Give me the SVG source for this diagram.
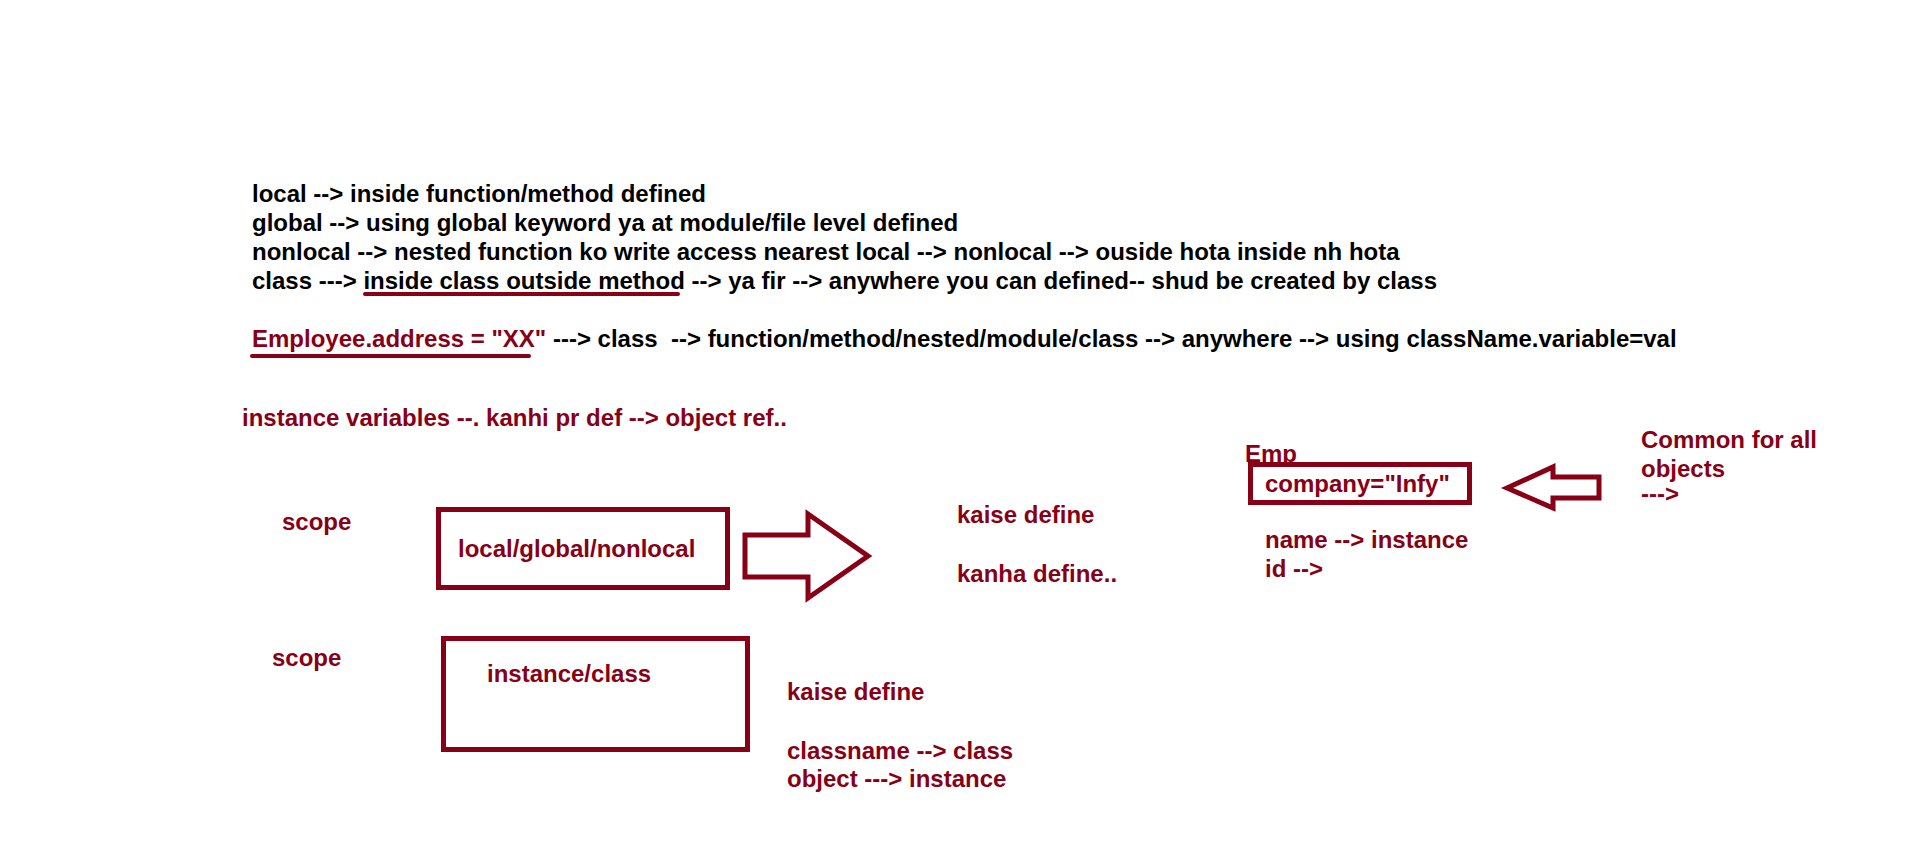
<svg xmlns="http://www.w3.org/2000/svg" width="1914" height="867" viewBox="0 0 1914 867">
<style>
text{font-family:"Liberation Sans",Arial,sans-serif;font-weight:bold;font-size:24px}
.k{fill:#000}
.r{fill:#880015}
.box{fill:none;stroke:#880015;stroke-width:5}
.ul{stroke:#880015;stroke-width:4;stroke-linecap:round;fill:none}
.arr{fill:#fff;stroke:#880015;stroke-width:5;stroke-linejoin:miter}
</style>
<rect width="1914" height="867" fill="#fff"/>
<g id="notes">
<text class="k" x="252" y="202">local --&gt; inside function/method defined</text>
<text class="k" x="252" y="231">global --&gt; using global keyword ya at module/file level defined</text>
<text class="k" x="252" y="260">nonlocal --&gt; nested function ko write access nearest local --&gt; nonlocal --&gt; ouside hota inside nh hota</text>
<text class="k" x="252" y="289">class ---&gt; inside class outside method --&gt; ya fir --&gt; anywhere you can defined-- shud be created by class</text>
<line class="ul" x1="365" y1="294" x2="678" y2="294"/>
<text class="k" x="252" y="347" xml:space="preserve"><tspan class="r">Employee.address = "XX"</tspan> ---&gt; class  --&gt; function/method/nested/module/class --&gt; anywhere --&gt; using className.variable=val</text>
<line class="ul" x1="252" y1="356" x2="529" y2="356"/>
<text class="r" x="242" y="426">instance variables --. kanhi pr def --&gt; object ref..</text>
</g>
<g id="scope1">
<text class="r" x="282" y="530">scope</text>
</g>
<g id="box-local">
<rect class="box" x="438.5" y="509.5" width="289" height="78"/>
<text class="r" x="458" y="557">local/global/nonlocal</text>
</g>
<g id="kaise1">
<text class="r" x="957" y="523">kaise define</text>
<text class="r" x="957" y="582">kanha define..</text>
</g>
<g id="scope2">
<text class="r" x="272" y="666">scope</text>
</g>
<g id="box-instance">
<rect class="box" x="443.5" y="638.5" width="304" height="111"/>
<text class="r" x="487" y="682">instance/class</text>
</g>
<g id="kaise2">
<text class="r" x="787" y="700">kaise define</text>
<text class="r" x="787" y="759">classname --&gt; class</text>
<text class="r" x="787" y="787">object ---&gt; instance</text>
</g>
<g id="emp">
<text class="r" x="1245" y="462">Emp</text>
<rect class="box" x="1250.5" y="464.5" width="219" height="38"/>
<text class="r" x="1265" y="492">company="Infy"</text>
<text class="r" x="1265" y="548">name --&gt; instance</text>
<text class="r" x="1265" y="577">id --&gt;</text>
</g>
<g id="common">
<text class="r" x="1641" y="448">Common for all</text>
<text class="r" x="1641" y="477">objects</text>
<text class="r" x="1641" y="502">---&gt;</text>
</g>
<g id="connectors">
<polygon class="arr" points="745,535 808,535 808,514 868,556 808,598 808,577 745,577"/>
<polygon class="arr" points="1507,488 1553,467 1553,477 1599,477 1599,498 1553,498 1553,508"/>
</g>
</svg>
